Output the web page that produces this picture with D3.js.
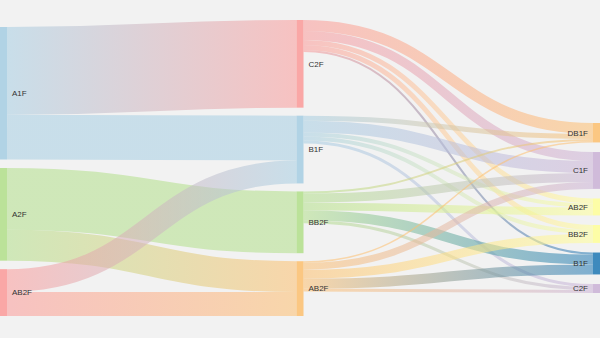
<!DOCTYPE html>
<html><head><meta charset="utf-8">
<script src="https://cdn.jsdelivr.net/npm/d3@7"></script>
<style>body{margin:0;background:#f2f2f2}svg{display:block}</style>
</head><body>
<script>
// ---- data ----
const nodeNames   = ["A1F","A2F","AB2F","C2F","B1F","BB2F","AB2F","DB1F","C1F","AB2F","BB2F","B1F","C2F"];
const nodeColumns = [0,0,0,1,1,1,1,2,2,2,2,2,2];
const nodeColors  = ["#a6cee3","#b2df8a","#fb9a99","#fb9a99","#a6cee3","#b2df8a","#fdbf6f","#fdbf6f","#cab2d6","#ffff99","#ffff99","#1f78b4","#cab2d6"];
const linkSources = [0,0,1,1,2,2, 3,3,3,3,3, 4,4,4,4,4, 5,5,5,5,5, 6,6,6,6,6];
const linkTargets = [3,4,5,6,4,6, 7,8,9,10,11, 7,8,9,10,12, 7,8,9,11,12, 7,8,10,11,12];
const linkValues  = [88,45,62,31,23,24, 11,9,5,5,2, 5,12,4,4,3, 2,9,8,10,3, 1.5,7,9,10,3];

// ---- layout settings ----
const W = 600, H = 338;
const nodeWidth = 7;
const columnSpans = [[27,316],[20,316],[123,293]];   // vertical band each column is spread over
const minPad = 8;

// ---- simple sankey layout ----
const nodes = nodeNames.map((name,i)=>({name,index:i,col:nodeColumns[i],color:nodeColors[i],sourceLinks:[],targetLinks:[]}));
const links = linkValues.map((value,i)=>{
  const l={index:i,value,source:nodes[linkSources[i]],target:nodes[linkTargets[i]]};
  l.source.sourceLinks.push(l); l.target.targetLinks.push(l); return l;});
nodes.forEach(n=>n.value=Math.max(d3.sum(n.sourceLinks,l=>l.value),d3.sum(n.targetLinks,l=>l.value)));
const nCols = d3.max(nodeColumns)+1;
const columns = d3.range(nCols).map(c=>nodes.filter(n=>n.col===c));
const x = d3.scaleLinear().domain([0,nCols-1]).range([0,W-nodeWidth]);
const ky = d3.min(columns,(c,i)=>(columnSpans[i][1]-columnSpans[i][0]-(c.length-1)*minPad)/d3.sum(c,n=>n.value));
const h = d3.scaleLinear().domain([0,1]).range([0,ky]);
columns.forEach((c,i)=>{
  const [a,b]=columnSpans[i];
  const gap=(b-a-d3.sum(c,n=>h(n.value)))/(c.length-1);
  let y=a;
  c.forEach(n=>{n.x0=x(i);n.x1=n.x0+nodeWidth;n.y0=y;n.y1=y+h(n.value);y=n.y1+gap;});
});
links.forEach(l=>l.width=h(l.value));
nodes.forEach(n=>{
  n.sourceLinks.sort((a,b)=>a.target.y0-b.target.y0||a.index-b.index);
  n.targetLinks.sort((a,b)=>a.source.y0-b.source.y0||a.index-b.index);
  let a=n.y0,b=n.y0;
  n.sourceLinks.forEach(l=>{l.y0=a+l.width/2;a+=l.width;});
  n.targetLinks.forEach(l=>{l.y1=b+l.width/2;b+=l.width;});
});

// ---- draw ----
const svg=d3.select("body").append("svg").attr("width",W).attr("height",H);
svg.append("rect").attr("width",W).attr("height",H).attr("fill","#f2f2f2");
const defs=svg.append("defs");
const lg=defs.selectAll("linearGradient").data(links).join("linearGradient")
  .attr("id",d=>"lg"+d.index).attr("gradientUnits","userSpaceOnUse")
  .attr("x1",d=>d.source.x1).attr("x2",d=>d.target.x0);
lg.append("stop").attr("offset","0%").attr("stop-color",d=>d.source.color);
lg.append("stop").attr("offset","100%").attr("stop-color",d=>d.target.color);

const linkGen=d3.linkHorizontal().source(d=>[d.source.x1,d.y0]).target(d=>[d.target.x0,d.y1]);
svg.append("g").attr("fill","none").selectAll("path").data(links).join("path")
  .attr("d",linkGen).attr("stroke",d=>`url(#lg${d.index})`)
  .attr("stroke-opacity",0.55).attr("stroke-width",d=>Math.max(1,d.width));

svg.append("g").selectAll("rect").data(nodes).join("rect")
  .attr("x",d=>d.x0).attr("y",d=>d.y0).attr("width",d=>d.x1-d.x0).attr("height",d=>d.y1-d.y0)
  .attr("fill",d=>d.color).attr("fill-opacity",0.85);

svg.append("g").attr("font-family","'Liberation Sans',Arial,sans-serif").attr("font-size",8).attr("fill","#333")
  .selectAll("text").data(nodes).join("text")
  .attr("x",d=>d.col<nCols-1?d.x1+5:d.x0-5).attr("y",d=>(d.y0+d.y1)/2).attr("dy","0.35em")
  .attr("text-anchor",d=>d.col<nCols-1?"start":"end").text(d=>d.name);
</script>
</body></html>
